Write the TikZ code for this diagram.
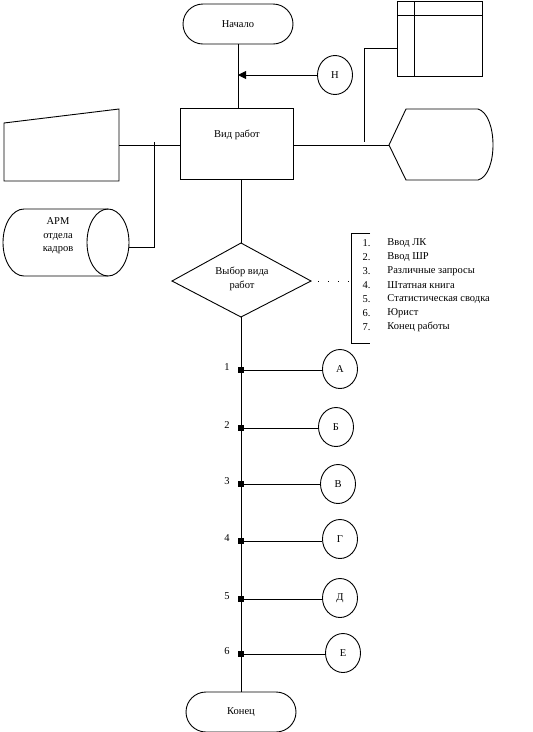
\documentclass[tikz,border=0pt]{standalone}
\usepackage{fontspec}
\setmainfont{Liberation Serif}
\usetikzlibrary{arrows.meta,shapes.geometric}
\begin{document}
\begin{tikzpicture}[x=1pt,y=-1pt,
 line width=0.9pt,
 every node/.style={font=\fontsize{10.5}{13.5}\selectfont},
 term/.style={draw,rounded corners=20pt,minimum width=110pt,minimum height=40pt,inner sep=0pt},
 conn/.style={draw,ellipse,minimum width=35pt,minimum height=39pt,inner sep=0pt},
 proc/.style={draw,minimum width=113pt,minimum height=71pt,inner sep=0pt},
 dotmark/.style={fill,minimum size=6pt,inner sep=0pt},
 num/.style={inner sep=0pt},
 listnum/.style={anchor=east,inner sep=0pt,font=\fontsize{10.5}{12}\selectfont},
 listtxt/.style={anchor=west,inner sep=0pt,font=\fontsize{10.5}{12}\selectfont},
 plain/.style={inner sep=0pt,align=center},
]
\useasboundingbox (0,0) rectangle (533,732);

% terminals
\node[term] (start) at (238,24) {Начало};
\node[term] (stop) at (241,712) {Конец};

% connector H with arrow
\node[conn] (H) at (335,75) {Н};

% process box
\node[proc] (vid) at (236.5,143.5) {};
\node[plain] (vidtext) at (237,135) {Вид работ};

\draw (start.south) -- (start.south |- vid.north);
\draw[-{Triangle[length=8pt,width=8pt]}] (H.west) -- (H.west -| start.south);

% table (document) top right
\draw (397,1) rectangle (482,76);
\draw (414,1) -- (414,76);
\draw (397,15) -- (482,15);
\coordinate (tabL) at (397,48);
\coordinate (tabD) at (364,142);

% display shape
\coordinate (dispL) at (389,145);
\draw (dispL) -- (406,109) -- (478,109) .. controls (498,115) and (498,175) .. (478,180) -- (406,180) -- cycle;
\draw (vid.east |- dispL) -- (dispL);
\draw (tabL) -- (tabL -| tabD) -- (tabD);

% manual input
\coordinate (miR) at (119,145);
\draw (4,123) -- (119,109) -- (119,181) -- (4,181) -- cycle;
\draw (miR) -- (vid.west |- miR);

% cylinder
\draw (108,209) -- (24,209) arc[start angle=90,end angle=270,x radius=21,y radius=-33.5] -- (108,276);
\draw (108,242.5) ellipse[x radius=21,y radius=33.5];
\coordinate (cylR) at (129,247);
\node[plain] (arm) at (58,236) {АРМ\\отдела\\кадров};
\draw (154,142) -- (154,247) -- (cylR);

% decision diamond
\coordinate (dN) at (241,243);
\coordinate (dS) at (241,317);
\coordinate (dW) at (172,281);
\coordinate (dE) at (311,281);
\draw (dN) -- (dE) -- (dS) -- (dW) -- cycle;
\node[plain] (dtext) at (242,279) {Выбор вида\\работ};
\draw (vid.south -| dN) -- (dN);

% annotation bracket and list
\coordinate (brk) at (351,281);
\draw[dash pattern=on 1pt off 9pt,line width=1pt] ([xshift=7pt]dE) -- (brk);
\draw (370,233) -- (351,233) -- (351,343) -- (370,343);
\foreach \i/\t/\yy in {1/Ввод ЛК/243, 2/Ввод ШР/257, 3/Различные запросы/271, 4/Штатная книга/285, 5/Статистическая сводка/299, 6/Юрист/313, 7/Конец работы/327}{
  \node[listnum] (ln\i) at (371,\yy) {\i.};
  \node[listtxt] (lt\i) at (387,\yy) {\t};
}

% main trunk
\draw (dS) -- (dS |- stop.north);

% branches
\foreach \n/\yy/\lab/\cx/\cy in {1/370/А/340/369, 2/428/Б/336/427, 3/484/В/338/484, 4/541/Г/340/539, 5/599/Д/340/598, 6/654/Е/343/653}{
  \node[conn] (c\n) at (\cx,\cy) {\lab};
  \node[dotmark] (d\n) at (241,\yy) {};
  \draw (d\n.center) -- (d\n.center -| c\n.west);
  \node[num] (n\n) at (227,\yy-3) {\n};
}
\end{tikzpicture}
\end{document}
